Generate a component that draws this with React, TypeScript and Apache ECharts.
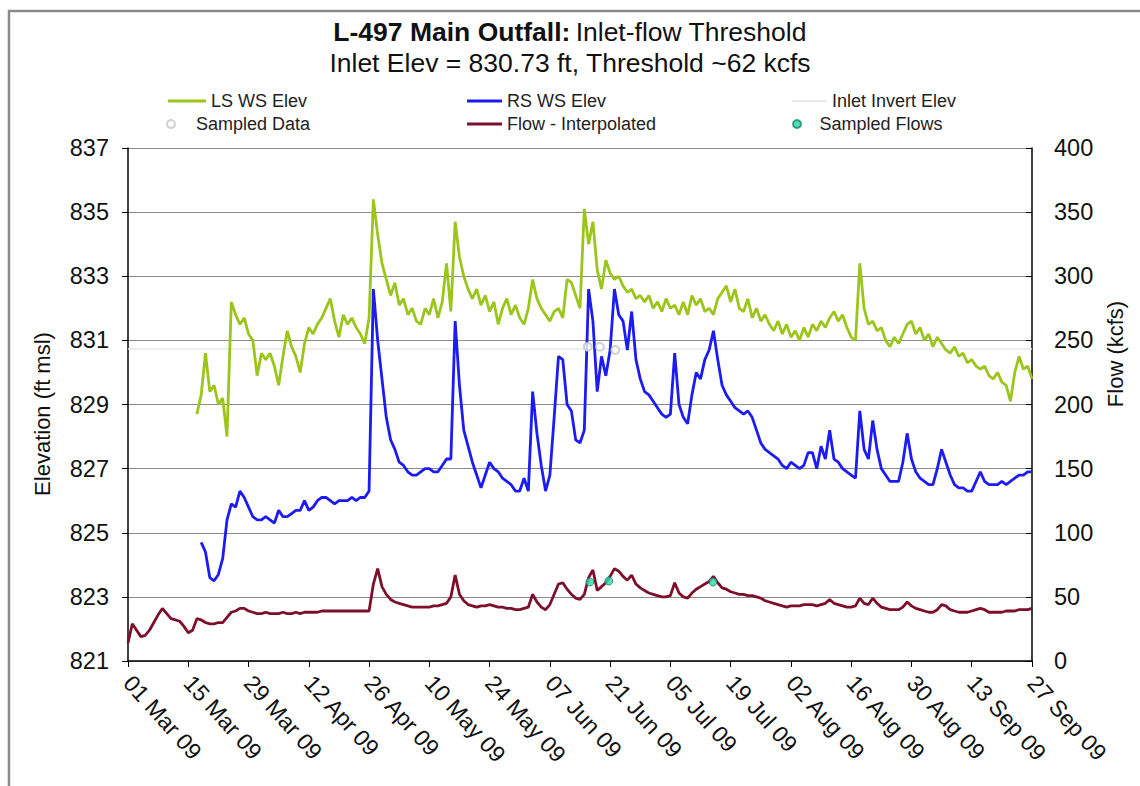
import React, { useEffect, useRef } from 'react';
import * as echarts from 'echarts';

const xTickLabels = ['01 Mar 09', '15 Mar 09', '29 Mar 09', '12 Apr 09', '26 Apr 09', '10 May 09', '24 May 09', '07 Jun 09', '21 Jun 09', '05 Jul 09', '19 Jul 09', '02 Aug 09', '16 Aug 09', '30 Aug 09', '13 Sep 09', '27 Sep 09'];
const elevTicks = [821, 823, 825, 827, 829, 831, 833, 835, 837];
const flowTicks = [0, 50, 100, 150, 200, 250, 300, 350, 400];

// day index counted from 01 Mar 09
const lsStartDay = 16;
const lsWsElev = [
  828.7, 829.3, 830.6, 829.4, 829.6, 829.0, 829.2, 828.0, 832.2, 831.8,
  831.5, 831.7, 831.2, 831.0, 829.9, 830.6, 830.4, 830.6, 830.2, 829.6,
  830.5, 831.3, 830.8, 830.5, 830.0, 830.9, 831.4, 831.2, 831.5, 831.7,
  832.0, 832.3, 831.6, 831.1, 831.8, 831.5, 831.7, 831.4, 831.2, 830.9,
  831.7, 835.4, 834.3, 833.4, 832.9, 832.4, 832.8, 832.1, 832.3, 831.8,
  832.0, 831.6, 831.5, 832.0, 831.8, 832.3, 831.7, 832.2, 833.4, 831.9,
  834.7, 833.6, 833.0, 832.6, 832.3, 832.6, 832.1, 832.4, 831.9, 832.2,
  831.5, 832.0, 832.3, 831.8, 832.1, 831.7, 831.5, 832.0, 832.9, 832.3,
  832.0, 831.8, 831.6, 831.9, 832.0, 831.7, 832.9, 832.8, 832.4, 832.0,
  835.1, 834.0, 834.7, 833.2, 832.6, 833.5, 833.1, 832.9, 833.0, 832.7,
  832.5, 832.6, 832.3, 832.4, 832.2, 832.4, 832.0, 832.2, 831.9, 832.3,
  832.0, 832.1, 831.8, 832.2, 831.8, 832.4, 832.1, 832.3, 831.9, 832.0,
  831.8, 832.3, 832.5, 832.7, 832.2, 832.6, 832.0, 831.9, 832.3, 831.7,
  832.0, 831.6, 831.8, 831.5, 831.3, 831.6, 831.2, 831.5, 831.1, 831.3,
  831.0, 831.4, 831.1, 831.5, 831.3, 831.6, 831.4, 831.7, 831.9, 831.6,
  831.8, 831.4, 831.1, 831.0, 833.4, 832.0, 831.5, 831.6, 831.3, 831.4,
  831.0, 830.8, 831.1, 830.9, 831.2, 831.5, 831.6, 831.2, 831.4, 831.0,
  831.2, 830.8, 831.1, 830.9, 830.7, 830.6, 830.8, 830.5, 830.6, 830.3,
  830.4, 830.2, 830.1, 830.2, 829.9, 829.8, 830.0, 829.7, 829.6, 829.1,
  830.0, 830.5, 830.1, 830.2, 829.8,
];

const rsStartDay = 17;
const rsWsElev = [
  824.7, 824.4, 823.6, 823.5, 823.7, 824.2, 825.4, 825.9, 825.8, 826.3,
  826.1, 825.8, 825.5, 825.4, 825.4, 825.5, 825.4, 825.3, 825.7, 825.5,
  825.5, 825.6, 825.7, 825.7, 826.0, 825.7, 825.8, 826.0, 826.1, 826.1,
  826.0, 825.9, 826.0, 826.0, 826.0, 826.1, 826.0, 826.1, 826.1, 826.3,
  832.6, 831.0, 829.8, 828.6, 827.9, 827.6, 827.2, 827.1, 826.9, 826.8,
  826.8, 826.9, 827.0, 827.0, 826.9, 826.9, 827.1, 827.3, 827.3, 831.6,
  829.6, 828.2, 827.7, 827.2, 826.8, 826.4, 826.8, 827.2, 827.0, 826.9,
  826.7, 826.6, 826.5, 826.3, 826.3, 826.7, 826.3, 829.4, 828.1, 827.1,
  826.3, 826.8, 828.6, 830.5, 830.4, 829.0, 828.8, 827.9, 827.8, 828.2,
  832.6, 831.6, 829.4, 830.5, 829.9, 830.7, 832.6, 831.8, 831.6, 830.7,
  831.9, 830.4, 829.8, 829.4, 829.3, 829.1, 828.9, 828.7, 828.6, 828.7,
  830.6, 829.0, 828.6, 828.4, 829.3, 830.0, 829.8, 830.4, 830.7, 831.3,
  830.4, 829.6, 829.3, 829.1, 828.9, 828.8, 828.7, 828.8, 828.6, 828.2,
  827.8, 827.6, 827.5, 827.4, 827.3, 827.1, 827.0, 827.2, 827.1, 827.0,
  827.1, 827.5, 827.5, 827.0, 827.7, 827.3, 828.2, 827.3, 827.2, 827.0,
  826.9, 826.8, 826.7, 828.8, 827.6, 827.3, 828.5, 827.6, 827.0, 826.8,
  826.6, 826.6, 826.6, 827.2, 828.1, 827.3, 826.9, 826.7, 826.6, 826.5,
  826.5, 827.0, 827.6, 827.2, 826.8, 826.5, 826.4, 826.4, 826.3, 826.3,
  826.6, 826.9, 826.6, 826.5, 826.5, 826.5, 826.6, 826.5, 826.6, 826.7,
  826.8, 826.8, 826.9, 826.9,
];

const flowStartDay = 0;
const flowInterpolated = [
  14, 29, 24, 19, 20, 24, 30, 36, 41, 37,
  33, 32, 31, 27, 22, 24, 33, 32, 30, 29,
  29, 30, 30, 34, 38, 39, 41, 41, 39, 38,
  37, 37, 38, 37, 37, 37, 38, 37, 37, 38,
  37, 38, 38, 38, 38, 39, 39, 39, 39, 39,
  39, 39, 39, 39, 39, 39, 39, 60, 72, 58,
  52, 48, 46, 45, 44, 43, 42, 42, 42, 42,
  42, 43, 43, 44, 45, 50, 67, 52, 47, 44,
  43, 42, 43, 43, 44, 43, 42, 42, 41, 41,
  40, 40, 41, 42, 52, 46, 42, 40, 44, 52,
  60, 61, 56, 52, 49, 48, 52, 65, 71, 55,
  58, 61, 66, 72, 70, 66, 63, 67, 60, 57,
  55, 53, 52, 51, 50, 50, 51, 61, 53, 50,
  49, 53, 56, 58, 60, 62, 66, 61, 57, 56,
  54, 53, 52, 52, 51, 51, 50, 49, 47, 46,
  45, 44, 43, 42, 43, 43, 43, 44, 44, 44,
  43, 44, 45, 48, 45, 44, 43, 42, 42, 43,
  49, 45, 44, 49, 45, 42, 41, 40, 40, 40,
  42, 46, 43, 41, 40, 39, 38, 38, 40, 44,
  43, 40, 39, 38, 38, 38, 39, 40, 41, 40,
  38, 38, 38, 38, 39, 39, 39, 40, 40, 40,
  41,
];

const inletInvertElev = 830.73;
const inletLineDays = [0, 210];

const sampledDataDays = [106.8, 109.6, 113.2];
const sampledDataElev = [830.8, 830.8, 830.7];

const sampledFlowDays = [107.3, 111.7, 135.9];
const sampledFlowValues = [61.6, 62.4, 61.6];

const ELEV_BASE = elevTicks[0];
const FONT = "'Liberation Sans', Arial, sans-serif";

export default function App() {
  const ref = useRef<HTMLDivElement>(null);

  useEffect(() => {
    document.body.style.margin = '0';
    if (!ref.current) return;
    const chart = echarts.init(ref.current, null, { renderer: 'svg' });

    const toElev = (arr: number[], start: number) => arr.map((v, i) => [start + i, v - ELEV_BASE]);
    const legendCommon = {
      orient: 'horizontal',
      padding: 0,
      itemGap: 0,
      textStyle: { fontSize: 18, color: '#222', fontFamily: FONT },
    };

    chart.setOption({
      animation: false,
      backgroundColor: '#ffffff',
      textStyle: { fontFamily: FONT },
      title: [
        {
          text: '{b|L-497 Main Outfall:} {n|Inlet-flow Threshold}',
          left: 'center',
          top: 18,
          padding: 0,
          textStyle: {
            fontWeight: 'normal',
            rich: {
              b: { fontSize: 26.5, fontWeight: 'bold', color: '#111', fontFamily: FONT },
              n: { fontSize: 26.5, fontWeight: 'normal', color: '#111', fontFamily: FONT },
            },
          },
        },
        {
          text: 'Inlet Elev = 830.73 ft, Threshold ~62 kcfs',
          left: 'center',
          top: 49,
          padding: 0,
          textStyle: { fontSize: 26.5, fontWeight: 'normal', color: '#111', fontFamily: FONT },
        },
      ],
      legend: [
        { ...legendCommon, data: [{ name: 'LS WS Elev', icon: 'rect' }], left: 168, top: 92, itemWidth: 38, itemHeight: 3 },
        { ...legendCommon, data: [{ name: 'RS WS Elev', icon: 'rect' }], left: 467, top: 92, itemWidth: 35, itemHeight: 3 },
        { ...legendCommon, data: [{ name: 'Inlet Invert Elev', icon: 'rect' }], left: 792, top: 92, itemWidth: 35, itemHeight: 2 },
        { ...legendCommon, data: [{ name: 'Sampled Data', icon: 'emptyCircle' }], left: 166, top: 115, itemWidth: 40, itemHeight: 8 },
        { ...legendCommon, data: [{ name: 'Flow - Interpolated', icon: 'rect' }], left: 467, top: 115, itemWidth: 35, itemHeight: 3 },
        { ...legendCommon, data: [{ name: 'Sampled Flows', icon: 'circle' }], left: 792, top: 115, itemWidth: 35, itemHeight: 8 },
      ],
      grid: { left: 128, right: 108, top: 148, bottom: 125, show: false },
      xAxis: {
        type: 'value',
        min: 0,
        max: 210,
        interval: 14,
        axisLine: { show: true, lineStyle: { color: '#000', width: 1.5 } },
        axisTick: { show: true, inside: false, length: 6, lineStyle: { color: '#000' } },
        splitLine: { show: false },
        axisLabel: {
          rotate: -48,
          margin: 18,
          fontSize: 23,
          color: '#111',
          fontFamily: FONT,
          formatter: (v: number) => xTickLabels[Math.round(v / 14)] ?? '',
        },
      },
      yAxis: [
        {
          type: 'value',
          min: 0,
          max: elevTicks[elevTicks.length - 1] - ELEV_BASE,
          interval: elevTicks[1] - elevTicks[0],
          position: 'left',
          axisLine: { show: true, lineStyle: { color: '#000', width: 1.5 } },
          axisTick: { show: true, inside: false, length: 6, lineStyle: { color: '#000' } },
          splitLine: { show: true, lineStyle: { color: '#8c8c8c', width: 1.2 } },
          axisLabel: {
            margin: 19,
            fontSize: 23.5,
            color: '#111',
            fontFamily: FONT,
            formatter: (v: number) => String(v + ELEV_BASE),
          },
        },
        {
          type: 'value',
          min: flowTicks[0],
          max: flowTicks[flowTicks.length - 1],
          interval: flowTicks[1] - flowTicks[0],
          position: 'right',
          axisLine: { show: true, lineStyle: { color: '#000', width: 1.5 } },
          axisTick: { show: true, inside: true, length: 6, lineStyle: { color: '#000' } },
          splitLine: { show: false },
          axisLabel: { margin: 22, fontSize: 23.5, color: '#111', fontFamily: FONT },
        },
      ],
      graphic: [
        {
          type: 'rect',
          shape: { x: 9, y: 11, width: 1140, height: 800 },
          style: { fill: 'none', stroke: '#8a8a8a', lineWidth: 2.5 },
          silent: true,
        },
        {
          type: 'text',
          x: 42,
          y: 414,
          rotation: Math.PI / 2,
          style: { text: 'Elevation (ft msl)', fontSize: 22, fill: '#111', fontFamily: FONT, textAlign: 'center', textVerticalAlign: 'middle' },
        },
        {
          type: 'text',
          x: 1115,
          y: 354,
          rotation: Math.PI / 2,
          style: { text: 'Flow (kcfs)', fontSize: 22, fill: '#111', fontFamily: FONT, textAlign: 'center', textVerticalAlign: 'middle' },
        },
      ],
      series: [
        {
          name: 'LS WS Elev',
          type: 'line',
          yAxisIndex: 0,
          symbol: 'none',
          data: toElev(lsWsElev, lsStartDay),
          lineStyle: { color: '#9cc51c', width: 2.8 },
          itemStyle: { color: '#9cc51c' },
          z: 3,
        },
        {
          name: 'RS WS Elev',
          type: 'line',
          yAxisIndex: 0,
          symbol: 'none',
          data: toElev(rsWsElev, rsStartDay),
          lineStyle: { color: '#1c1cf2', width: 2.8 },
          itemStyle: { color: '#1c1cf2' },
          z: 4,
        },
        {
          name: 'Inlet Invert Elev',
          type: 'line',
          yAxisIndex: 0,
          symbol: 'none',
          data: inletLineDays.map((d) => [d, inletInvertElev - ELEV_BASE]),
          lineStyle: { color: '#e8eaec', width: 1.5 },
          itemStyle: { color: '#e8eaec' },
          z: 2,
        },
        {
          name: 'Sampled Data',
          type: 'scatter',
          yAxisIndex: 0,
          symbol: 'emptyCircle',
          symbolSize: 8,
          data: sampledDataDays.map((d, i) => [d, sampledDataElev[i] - ELEV_BASE]),
          itemStyle: { color: '#c4c4c4', borderColor: '#c0c0c0', borderWidth: 1 },
          z: 5,
        },
        {
          name: 'Flow - Interpolated',
          type: 'line',
          yAxisIndex: 1,
          symbol: 'none',
          data: flowInterpolated.map((v, i) => [flowStartDay + i, v]),
          lineStyle: { color: '#7d0f2c', width: 2.8 },
          itemStyle: { color: '#7d0f2c' },
          z: 5,
        },
        {
          name: 'Sampled Flows',
          type: 'scatter',
          yAxisIndex: 1,
          symbol: 'circle',
          symbolSize: 8,
          data: sampledFlowDays.map((d, i) => [d, sampledFlowValues[i]]),
          itemStyle: { color: '#2fd6a8', borderColor: '#138a68', borderWidth: 1 },
          z: 6,
        },
      ],
    });

    return () => chart.dispose();
  }, []);

  return <div ref={ref} style={{ width: 1140, height: 786 }} />;
}
